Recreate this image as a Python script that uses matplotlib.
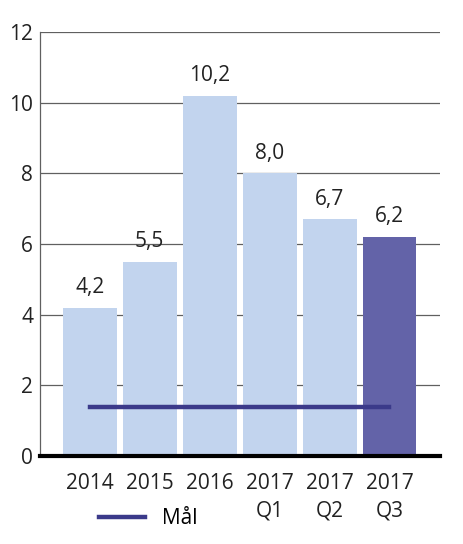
import matplotlib
matplotlib.use("Agg")
import matplotlib.pyplot as plt

# -------------------------------------------------------
# DATOS
# -------------------------------------------------------
categorias = ["2014", "2015", "2016", "2017\nQ1", "2017\nQ2", "2017\nQ3"]
valores    = [4.2, 5.5, 10.2, 8.0, 6.7, 6.2]
etiquetas  = ["4,2", "5,5", "10,2", "8,0", "6,7", "6,2"]
mal        = 1.4
y_ticks    = [0, 2, 4, 6, 8, 10, 12]

# -------------------------------------------------------
# ESTILO
# -------------------------------------------------------
plt.rcParams['font.family'] = ['Open Sans', 'DejaVu Sans']
CLARO  = '#c2d4ee'
OSCURO = '#6363a8'
LINEA  = '#3b3a8a'

fig = plt.figure(figsize=(4.63, 5.44), dpi=100)
ax = fig.add_axes([0.0864, 0.1618, 0.8636, 0.7792])

x = list(range(len(categorias)))
colores = [CLARO] * (len(categorias) - 1) + [OSCURO]
ax.bar(x, valores, width=0.9, color=colores, zorder=2)

for xi, v, t in zip(x, valores, etiquetas):
    ax.annotate(t, (xi, v), xytext=(0, 7), textcoords='offset points',
                ha='center', va='bottom', fontsize=15, color='#222222')

# línea de objetivo (Mål)
ax.plot([x[0], x[-1]], [mal, mal], color=LINEA, lw=3.2, zorder=3,
        solid_capstyle='projecting', label='Mål')

ax.set_xlim(-0.83, 5.84)
ax.set_ylim(0, 12)
ax.set_yticks(y_ticks)
ax.set_yticklabels([str(v) for v in y_ticks], fontsize=15, color='#222222')
ax.set_xticks(x)
ax.set_xticklabels(categorias, fontsize=15, color='#222222', linespacing=1.45)
ax.tick_params(axis='both', length=0)
ax.tick_params(axis='y', pad=5)
ax.tick_params(axis='x', pad=12)

ax.yaxis.grid(True, color='#606060', lw=0.9, zorder=1)
ax.set_axisbelow(True)
for s in ['top', 'right']:
    ax.spines[s].set_visible(False)
ax.spines['left'].set_color('#606060')
ax.spines['left'].set_linewidth(0.9)
ax.spines['bottom'].set_color('black')
ax.spines['bottom'].set_linewidth(3)
ax.spines['bottom'].set_zorder(4)

fig.legend(loc='center', bbox_to_anchor=(0.32, 0.046), frameon=False,
           fontsize=15, handlelength=2.2, handletextpad=0.8)

fig.savefig("out.png", dpi=100)
